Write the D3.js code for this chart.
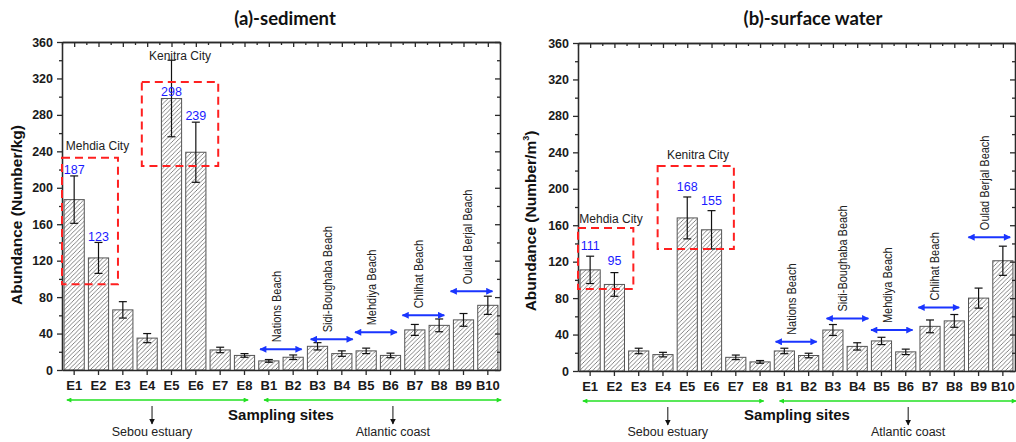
<!DOCTYPE html>
<html>
<head>
<meta charset="utf-8">
<script src="https://cdn.jsdelivr.net/npm/d3@7"></script>
<style>
  body { margin: 0; background: #fff; }
  svg { display: block; }
</style>
</head>
<body>
<svg id="chart" width="1016" height="442"></svg>
<script>
// Sampling sites along the Sebou estuary (E) and the Atlantic beaches (B)
const sites = ["E1","E2","E3","E4","E5","E6","E7","E8","B1","B2","B3","B4","B5","B6","B7","B8","B9","B10"];

// Microplastic abundance in sediment (Number/kg): mean and standard deviation
const sedimentMean = [187,123,66,35,298,239,22,16,10,14,26,18,21,16,44,49,55,71];
const sedimentErr  = [26,17,9,5,42,33,3,2,1.5,2.5,4,3,3,2.5,6,7,7,10];

// Microplastic abundance in surface water (Number/m3): mean and standard deviation
const waterMean = [111,95,22,18,168,155,15,10,22,17,45,27,33,21,49,55,80,121];
const waterErr  = [15,13,3,2.5,23,21,2.5,1.5,3,2.5,6,4,4,3,7,7,11,16];

const yTicks = [0,40,80,120,160,200,240,280,320,360];
const yMinorTicks = [20,60,100,140,180,220,260,300,340];

// Sites whose value is written above the bar, and the level of that text
const valueLabelSites = ["E1","E2","E5","E6"];
const sedimentValueLabelY = [220,146,305,279];
const waterValueLabelY = [138,121,202,187];

// City zones: [from site index, to site index, low value, high value]
const cityNames = ["Mehdia City","Kenitra City"];
const sedimentCityBoxes = [[-0.5,1.8,94,233],[2.78,5.92,224,316]];
const waterCityBoxes = [[-0.5,1.78,90,157],[2.78,5.92,134,225]];
const sedimentCityLabelAt = [[0.96,246],[4.35,345]];
const waterCityLabelAt = [[0.86,167],[4.44,237]];

// Beach spans: [from site index, to site index, arrow level]
const beachNames = ["Nations Beach","Sidi-Boughaba Beach","Mehdiya Beach","Chlihat Beach","Oulad Berjal Beach"];
const sedimentBeachSpans = [[7.64,9.35,22.7],[9.72,11.45,33.7],[11.54,13.26,41.4],[13.49,15.21,60],[15.47,17.19,86.4]];
const waterBeachSpans = [[7.64,9.33,32],[9.74,11.46,57.6],[11.57,13.28,44.9],[13.52,15.2,69.7],[15.58,17.3,146.9]];

// Regions along the x axis
const regionNames = ["Sebou estuary","Atlantic coast"];
const regionSpans = [[-0.3,7.15],[7.8,17.55]];
const regionPointers = [3.2,13.1];

const svg = d3.select("#chart");
const defs = svg.append("defs");

// Diagonal hatch fill for the bars
const hatch = defs.append("pattern")
  .attr("id","hatch").attr("patternUnits","userSpaceOnUse")
  .attr("width",4.3).attr("height",4.3);
hatch.append("rect").attr("width",4.3).attr("height",4.3).attr("fill","#fff");
hatch.append("path")
  .attr("d","M-1,1 l2,-2 M0,4.3 l4.3,-4.3 M3.3,5.3 l2,-2")
  .attr("stroke","#5a5a5a").attr("stroke-width",0.75);

function marker(id, color, w, h) {
  defs.append("marker")
    .attr("id", id).attr("viewBox","0 0 10 10")
    .attr("refX", 9).attr("refY", 5)
    .attr("markerWidth", w).attr("markerHeight", h)
    .attr("markerUnits","userSpaceOnUse")
    .attr("orient","auto-start-reverse")
    .append("path").attr("d","M0,0 L10,5 L0,10 z").attr("fill", color);
}
const BLUE = "#1a35ff", GREEN = "#22e022", RED = "#ff2020";
marker("headBlue", BLUE, 8, 7);
marker("headGreen", GREEN, 7, 5);
marker("headBlack", "#111", 6, 6);

const SANS = "'Liberation Sans', Arial, sans-serif";

function drawPanel(p) {
  const g = svg.append("g");
  const x = d3.scaleBand().domain(sites).range([p.x0, p.x1]).paddingInner(0.17).paddingOuter(0.085);
  const xi = d3.scaleLinear().domain([-0.5, sites.length - 0.5]).range([p.x0, p.x1]);
  const y = d3.scaleLinear().domain([0, 360]).range([p.y0, p.y1]);

  // Bars
  g.append("g").selectAll("rect").data(sites).join("rect")
    .attr("x", d => x(d))
    .attr("width", x.bandwidth())
    .attr("y", (d, i) => y(p.mean[i]))
    .attr("height", (d, i) => y(0) - y(p.mean[i]))
    .attr("fill","url(#hatch)")
    .attr("stroke","#555").attr("stroke-width",1);

  // Error bars
  const eb = g.append("g").attr("stroke","#111").attr("stroke-width",1.2);
  sites.forEach((s, i) => {
    const cx = x(s) + x.bandwidth() / 2;
    const hi = y(p.mean[i] + p.err[i]), lo = y(p.mean[i] - p.err[i]);
    eb.append("line").attr("x1",cx).attr("x2",cx).attr("y1",hi).attr("y2",lo);
    eb.append("line").attr("x1",cx-4).attr("x2",cx+4).attr("y1",hi).attr("y2",hi);
    eb.append("line").attr("x1",cx-4).attr("x2",cx+4).attr("y1",lo).attr("y2",lo);
  });

  // Axes
  const styleAxis = a => {
    a.attr("color","#2a2a2a");
    a.selectAll("path,line").attr("stroke-width",1.3);
    a.selectAll("text").attr("font-family",SANS).attr("font-weight","bold").attr("fill","#1a1a1a");
  };
  const ints = d3.range(sites.length);
  const halves = d3.range(sites.length + 1).map(v => v - 0.5);

  g.append("g").attr("transform",`translate(0,${p.y1})`)
    .call(d3.axisTop(xi).tickValues(halves).tickSize(-3).tickFormat("").tickSizeOuter(0)).call(styleAxis);
  g.append("g").attr("transform",`translate(0,${p.y1})`)
    .call(d3.axisTop(xi).tickValues(ints).tickSize(-5).tickFormat("").tickSizeOuter(0)).call(styleAxis);
  g.append("g").attr("transform",`translate(${p.x1},0)`)
    .call(d3.axisRight(y).tickValues(yMinorTicks).tickSize(-3).tickFormat("").tickSizeOuter(0)).call(styleAxis);
  g.append("g").attr("transform",`translate(${p.x1},0)`)
    .call(d3.axisRight(y).tickValues(yTicks).tickSize(-5).tickFormat("").tickSizeOuter(0)).call(styleAxis);
  g.append("g").attr("transform",`translate(${p.x0},0)`)
    .call(d3.axisLeft(y).tickValues(yMinorTicks).tickSize(3).tickFormat("").tickSizeOuter(0)).call(styleAxis);
  g.append("g").attr("transform",`translate(${p.x0},0)`)
    .call(d3.axisLeft(y).tickValues(yTicks).tickSize(5).tickPadding(4).tickSizeOuter(0))
    .call(styleAxis).call(a => a.selectAll("text").attr("font-size",12.5));
  g.append("g").attr("transform",`translate(0,${p.y0})`)
    .call(d3.axisBottom(x).tickSize(5).tickPadding(6).tickSizeOuter(0))
    .call(styleAxis).call(a => a.selectAll("text").attr("font-size",13));

  // Value labels
  valueLabelSites.forEach((s, k) => {
    const i = sites.indexOf(s);
    g.append("text")
      .attr("x", x(s) + x.bandwidth() / 2).attr("y", y(p.labelY[k]))
      .attr("dy","0.35em").attr("text-anchor","middle")
      .attr("font-family",SANS).attr("font-size",12.5).attr("fill","#1a1aff")
      .text(p.mean[i]);
  });

  // City zones
  p.boxes.forEach((b, k) => {
    g.append("rect")
      .attr("x", xi(b[0])).attr("y", y(b[3]))
      .attr("width", xi(b[1]) - xi(b[0])).attr("height", y(b[2]) - y(b[3]))
      .attr("fill","none").attr("stroke",RED).attr("stroke-width",2)
      .attr("stroke-dasharray","8,5");
    g.append("text")
      .attr("x", xi(p.cityAt[k][0])).attr("y", y(p.cityAt[k][1]))
      .attr("dy","0.35em").attr("text-anchor","middle")
      .attr("font-family",SANS).attr("font-size",12).attr("fill","#222")
      .text(cityNames[k]);
  });

  // Beach spans
  p.spans.forEach((s, k) => {
    const yy = y(s[2]);
    g.append("line")
      .attr("x1", xi(s[0])).attr("x2", xi(s[1])).attr("y1", yy).attr("y2", yy)
      .attr("stroke",BLUE).attr("stroke-width",2)
      .attr("marker-start","url(#headBlue)").attr("marker-end","url(#headBlue)");
    const mid = (xi(s[0]) + xi(s[1])) / 2;
    g.append("text")
      .attr("transform",`translate(${mid},${yy - 7}) scale(1.12,1) rotate(-90)`)
      .attr("font-family",SANS).attr("font-size",11).attr("fill","#222")
      .text(beachNames[k]);
  });

  // Regions under the axis
  regionSpans.forEach((r, k) => {
    g.append("line")
      .attr("x1", xi(r[0])).attr("x2", xi(r[1])).attr("y1", p.y0 + 30).attr("y2", p.y0 + 30)
      .attr("stroke",GREEN).attr("stroke-width",1.5)
      .attr("marker-start","url(#headGreen)").attr("marker-end","url(#headGreen)");
    const px = xi(regionPointers[k]);
    g.append("line")
      .attr("x1", px).attr("x2", px).attr("y1", p.y0 + 36).attr("y2", p.y0 + 54)
      .attr("stroke","#111").attr("stroke-width",1)
      .attr("marker-end","url(#headBlack)");
    g.append("text")
      .attr("x", px).attr("y", 436).attr("text-anchor","middle")
      .attr("font-family",SANS).attr("font-size",12.5).attr("fill","#222")
      .text(regionNames[k]);
  });

  // Axis titles
  g.append("text")
    .attr("x", p.xTitleX).attr("y", 420).attr("text-anchor","middle")
    .attr("font-family",SANS).attr("font-weight","bold").attr("font-size",15).attr("fill","#111")
    .text("Sampling sites");
  const yt = g.append("text")
    .attr("transform",`translate(${p.yTitleX},${p.yTitleY}) rotate(-90)`)
    .attr("text-anchor","middle")
    .attr("font-family",SANS).attr("font-weight","bold").attr("font-size",15.5).attr("fill","#111");
  yt.append("tspan").text(p.yTitle);
  if (p.yTitleSup) {
    yt.append("tspan").attr("font-size",9).attr("dy",-7).text(p.yTitleSup);
    yt.append("tspan").attr("dy",7).text(")");
  }

  // Panel title
  g.append("text")
    .attr("x", p.titleX).attr("y", 24.5).attr("text-anchor","middle")
    .attr("font-family","Lato, 'Open Sans', sans-serif").attr("font-weight","bold")
    .attr("font-size",18.5).attr("fill","#111")
    .text(p.title);
}

drawPanel({
  x0: 62, x1: 500, y0: 370, y1: 42,
  mean: sedimentMean, err: sedimentErr, labelY: sedimentValueLabelY,
  boxes: sedimentCityBoxes, cityAt: sedimentCityLabelAt, spans: sedimentBeachSpans,
  title: "(a)-sediment", titleX: 285,
  yTitle: "Abundance (Number/kg)", yTitleX: 22, yTitleY: 215,
  xTitleX: 281
});

drawPanel({
  x0: 578, x1: 1015, y0: 371, y1: 43,
  mean: waterMean, err: waterErr, labelY: waterValueLabelY,
  boxes: waterCityBoxes, cityAt: waterCityLabelAt, spans: waterBeachSpans,
  title: "(b)-surface water", titleX: 813,
  yTitle: "Abundance (Number/m", yTitleSup: "3", yTitleX: 536, yTitleY: 221,
  xTitleX: 797
});
</script>
</body>
</html>
